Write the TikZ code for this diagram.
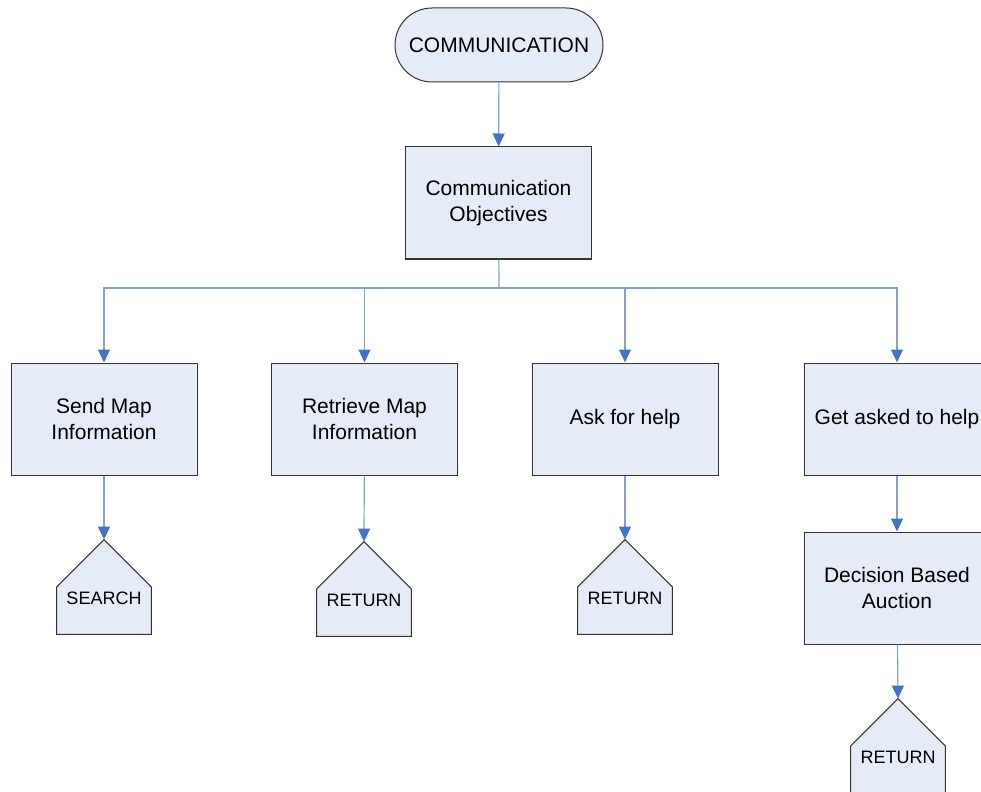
\documentclass[tikz,border=0pt]{standalone}
\usepackage{fontspec}
\setmainfont{Liberation Sans}
\usetikzlibrary{arrows.meta, calc}
\definecolor{boxc}{HTML}{E6ECF7}
\definecolor{linec}{HTML}{7F9FD6}
\definecolor{tipc}{HTML}{4472C4}
\tikzset{
  stepbox/.style={draw=black!80, fill=boxc, line width=0.5pt,
    minimum width=93pt, minimum height=56pt, inner sep=0pt, align=center,
    font=\fontsize{10.5}{13}\selectfont},
  termbox/.style={stepbox, minimum width=104pt, minimum height=37pt,
    rounded corners=18.5pt},
  arr/.style={draw=linec, line width=0.6pt,
    -{Triangle[width=6pt, length=6.5pt, color=tipc]}}
}
\newcommand{\plate}[3]{%
  \node[minimum size=47pt, inner sep=0pt] (#1) at #2 {};
  \draw[draw=black!80, fill=boxc, line width=0.5pt]
    (#1.north) -- (#1.east) -- (#1.south east) -- (#1.south west)
    -- (#1.west) -- cycle;
  \node[font=\fontsize{9}{11}\selectfont] at ($(#1)+(0,11)$) {#3};
}
\begin{document}
\begin{tikzpicture}[x=0.5pt, y=-0.5pt]
  \useasboundingbox (0,0) rectangle (981,792);
  \clip (0,0) rectangle (981,792);
  \node[termbox] (comm) at (499,45) {COMMUNICATION};
  \node[stepbox] (obj) at (498.5,203) {Communication\\Objectives};
  \node[stepbox] (smi) at (104,419) {Send Map\\Information};
  \node[stepbox] (rmi) at (364.5,419) {Retrieve Map\\Information};
  \node[stepbox] (afh) at (625,419) {Ask for help};
  \node[stepbox] (gah) at (897,419) {Get asked to help};
  \node[stepbox] (dba) at (897,588) {Decision Based\\Auction};
  \plate{srch}{(104,587)}{SEARCH}
  \plate{ret1}{(364,589)}{RETURN}
  \plate{ret2}{(625,587)}{RETURN}
  \plate{ret3}{(898,746)}{RETURN}
  \coordinate (bus) at (499,288);
  \draw[arr] (comm) -- (obj);
  \draw[draw=linec, line width=0.6pt] (obj) -- (bus);
  \foreach \n in {smi,rmi,afh,gah} \draw[arr] (bus) -| (\n.north);
  \draw[arr] (smi) -- (srch.north);
  \draw[arr] (rmi) -- (ret1.north);
  \draw[arr] (afh) -- (ret2.north);
  \draw[arr] (gah) -- (dba);
  \draw[arr] (dba) -- (ret3.north);
\end{tikzpicture}
\end{document}
